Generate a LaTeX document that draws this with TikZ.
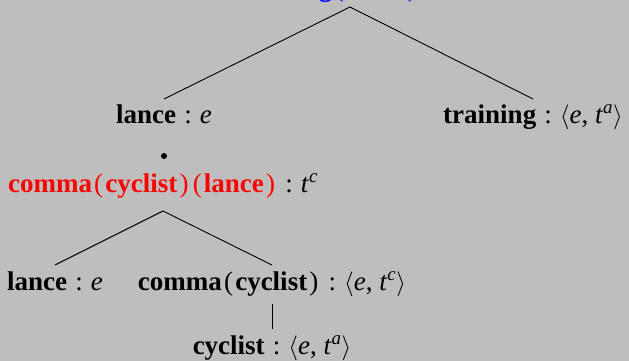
\documentclass[tikz,border=0pt]{standalone}
\usepackage{fontspec}
\setmainfont{Liberation Serif}
\definecolor{bg}{HTML}{BEBEBE}
\newcommand\cln{\hspace{0.3em}:\hspace{0.3em}}
\newcommand\lpar{\hspace{0.08em}(\hspace{0.08em}}
\newcommand\rpar{\hspace{0.08em})\hspace{0.08em}}
\newcommand\angty[1]{$\langle$\textit{e}, \textit{t}\textsuperscript{\textit{#1}}$\rangle$}
\tikzset{
  lbl/.style={anchor=base, inner sep=0pt, font=\fontsize{27}{32}\selectfont},
  edge/.style={line width=0.9pt, black}
}
\begin{document}
\begin{tikzpicture}[x=1pt,y=-1pt]
\fill[bg] (0,0) rectangle (629,361);
\useasboundingbox (0,0) rectangle (629,361);
\node[lbl] (top) at (350,-3) {\textcolor{blue}{\textbf{training}\lpar\textbf{lance}\rpar}\cln\textit{t}\textsuperscript{\textit{a}}};
\node[lbl] (l1) at (164,123) {\textbf{lance}\cln\textit{e}};
\node[lbl] (tr) at (533,123) {\textbf{training}\cln\angty{a}};
\node[circle, fill=black, inner sep=0pt, minimum size=6pt] (dot) at (164,156) {};
\node[lbl] (red) at (163,192) {\textcolor{red}{\textbf{comma}\lpar\textbf{cyclist}\rpar\lpar\textbf{lance}\rpar}\cln\textit{t}\textsuperscript{\textit{c}}};
\node[lbl] (l2) at (55,290) {\textbf{lance}\cln\textit{e}};
\node[lbl] (cc) at (272,290) {\textbf{comma}\lpar\textbf{cyclist}\rpar\cln\angty{c}};
\node[lbl] (cy) at (272,354) {\textbf{cyclist}\cln\angty{a}};
\draw[edge] ([yshift=-10pt]top.base) -- ([yshift=24pt]l1.base);
\draw[edge] ([yshift=-10pt]top.base) -- ([yshift=24pt]tr.base);
\draw[edge] ([yshift=-19pt]red.base) -- ([yshift=25pt]l2.base);
\draw[edge] ([yshift=-19pt]red.base) -- ([yshift=25pt]cc.base);
\draw[edge] ([yshift=-14pt]cc.base) -- ([yshift=25pt]cy.base);
\end{tikzpicture}
\end{document}
